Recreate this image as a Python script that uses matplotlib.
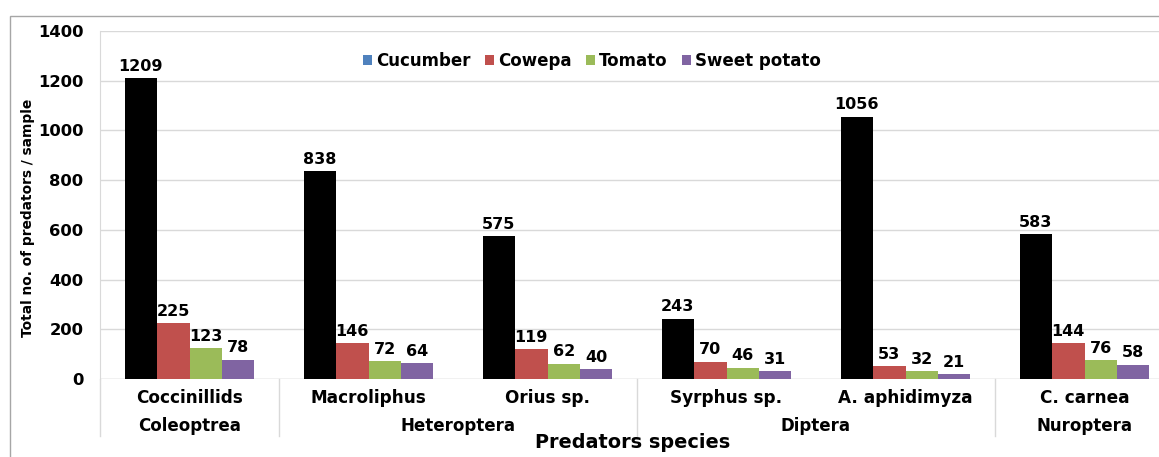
import matplotlib
matplotlib.use("Agg")
import matplotlib.pyplot as plt
from matplotlib.patches import Patch, Rectangle
import numpy as np

species = ["Coccinillids", "Macroliphus", "Orius sp.", "Syrphus sp.", "A. aphidimyza", "C. carnea"]
orders = ["Coleoptrea", "Heteroptera", "Diptera", "Nuroptera"]
order_spans = [(0, 1), (1, 3), (3, 5), (5, 6)]  # category index ranges per order

series_names = ["Cucumber", "Cowepa", "Tomato", "Sweet potato"]
cucumber = [1209, 838, 575, 243, 1056, 583]
cowepa = [225, 146, 119, 70, 53, 144]
tomato = [123, 72, 62, 46, 32, 76]
sweet_potato = [78, 64, 40, 31, 21, 58]

bar_colors = ["#000000", "#C0504D", "#9BBB59", "#8064A2"]
legend_colors = ["#4F81BD", "#C0504D", "#9BBB59", "#8064A2"]

W, H = 1159, 457
fig = plt.figure(figsize=(W / 100, H / 100), dpi=100)
plt.rcParams["font.family"] = "DejaVu Sans"

# outer chart border
fig.patches.append(Rectangle((10 / W, -0.1), 1.2, (H - 16) / H + 0.1,
                             transform=fig.transFigure, fill=False,
                             edgecolor="#A6A6A6", lw=1.0))

left, right, top, bottom = 100, 1174, 31, 379
ax = fig.add_axes([left / W, (H - bottom) / H, (right - left) / W, (bottom - top) / H])

x = np.arange(len(species))
bw = 0.1815
values = [cucumber, cowepa, tomato, sweet_potato]
for i, (vals, col) in enumerate(zip(values, bar_colors)):
    pos = x + (i - 1.5) * bw
    ax.bar(pos, vals, width=bw, color=col, zorder=3)
    for px, v in zip(pos, vals):
        ax.annotate(str(v), (px, v), xytext=(0, 3), textcoords="offset points",
                    ha="center", va="bottom", fontsize=11.5, fontweight="bold",
                    zorder=4)

ax.set_xlim(-0.5, len(species) - 0.5)
ax.set_ylim(0, 1400)
ax.set_yticks(np.arange(0, 1401, 200))
ax.tick_params(axis="y", length=0, pad=12, labelsize=11.8)
for lbl in ax.get_yticklabels():
    lbl.set_fontweight("bold")
ax.set_xticks([])
ax.grid(axis="y", color="#D9D9D9", lw=1.0, zorder=0)
for s in ["top", "right", "bottom"]:
    ax.spines[s].set_visible(False)
ax.spines["left"].set_color("#D9D9D9")
ax.axhline(0, color="#D9D9D9", lw=1.0, zorder=2)

fig.text(28 / W, 1 - 218 / H, "Total no. of predators / sample", rotation=90,
         ha="center", va="center", fontsize=9.9, fontweight="bold")

trans = ax.get_xaxis_transform()
ah = bottom - top
for xi, name in zip(x, species):
    ax.text(xi, -(398 - bottom) / ah, name, transform=trans, ha="center", va="center",
            fontsize=12.2, fontweight="bold")
for (a, b), name in zip(order_spans, orders):
    ax.text((a + b - 1) / 2, -(426 - bottom) / ah, name, transform=trans,
            ha="center", va="center", fontsize=12, fontweight="bold")
# group separators below the axis
for a, _ in order_spans:
    ax.plot([a - 0.5, a - 0.5], [0, -(436 - bottom) / ah], transform=trans,
            color="#D9D9D9", lw=1.0, clip_on=False)

fig.text(633 / W, 1 - 443 / H, "Predators species", ha="center", va="center",
         fontsize=13.9, fontweight="bold")

handles = [Patch(facecolor=c, edgecolor="none", label=n) for c, n in zip(legend_colors, series_names)]
fig.legend(handles=handles, loc="center", bbox_to_anchor=(592 / W, 1 - 61 / H),
           ncol=4, frameon=False, handlelength=0.55, handleheight=0.55,
           handletextpad=0.25, columnspacing=0.85,
           prop={"weight": "bold", "size": 12})

fig.savefig("out.png", dpi=100)
